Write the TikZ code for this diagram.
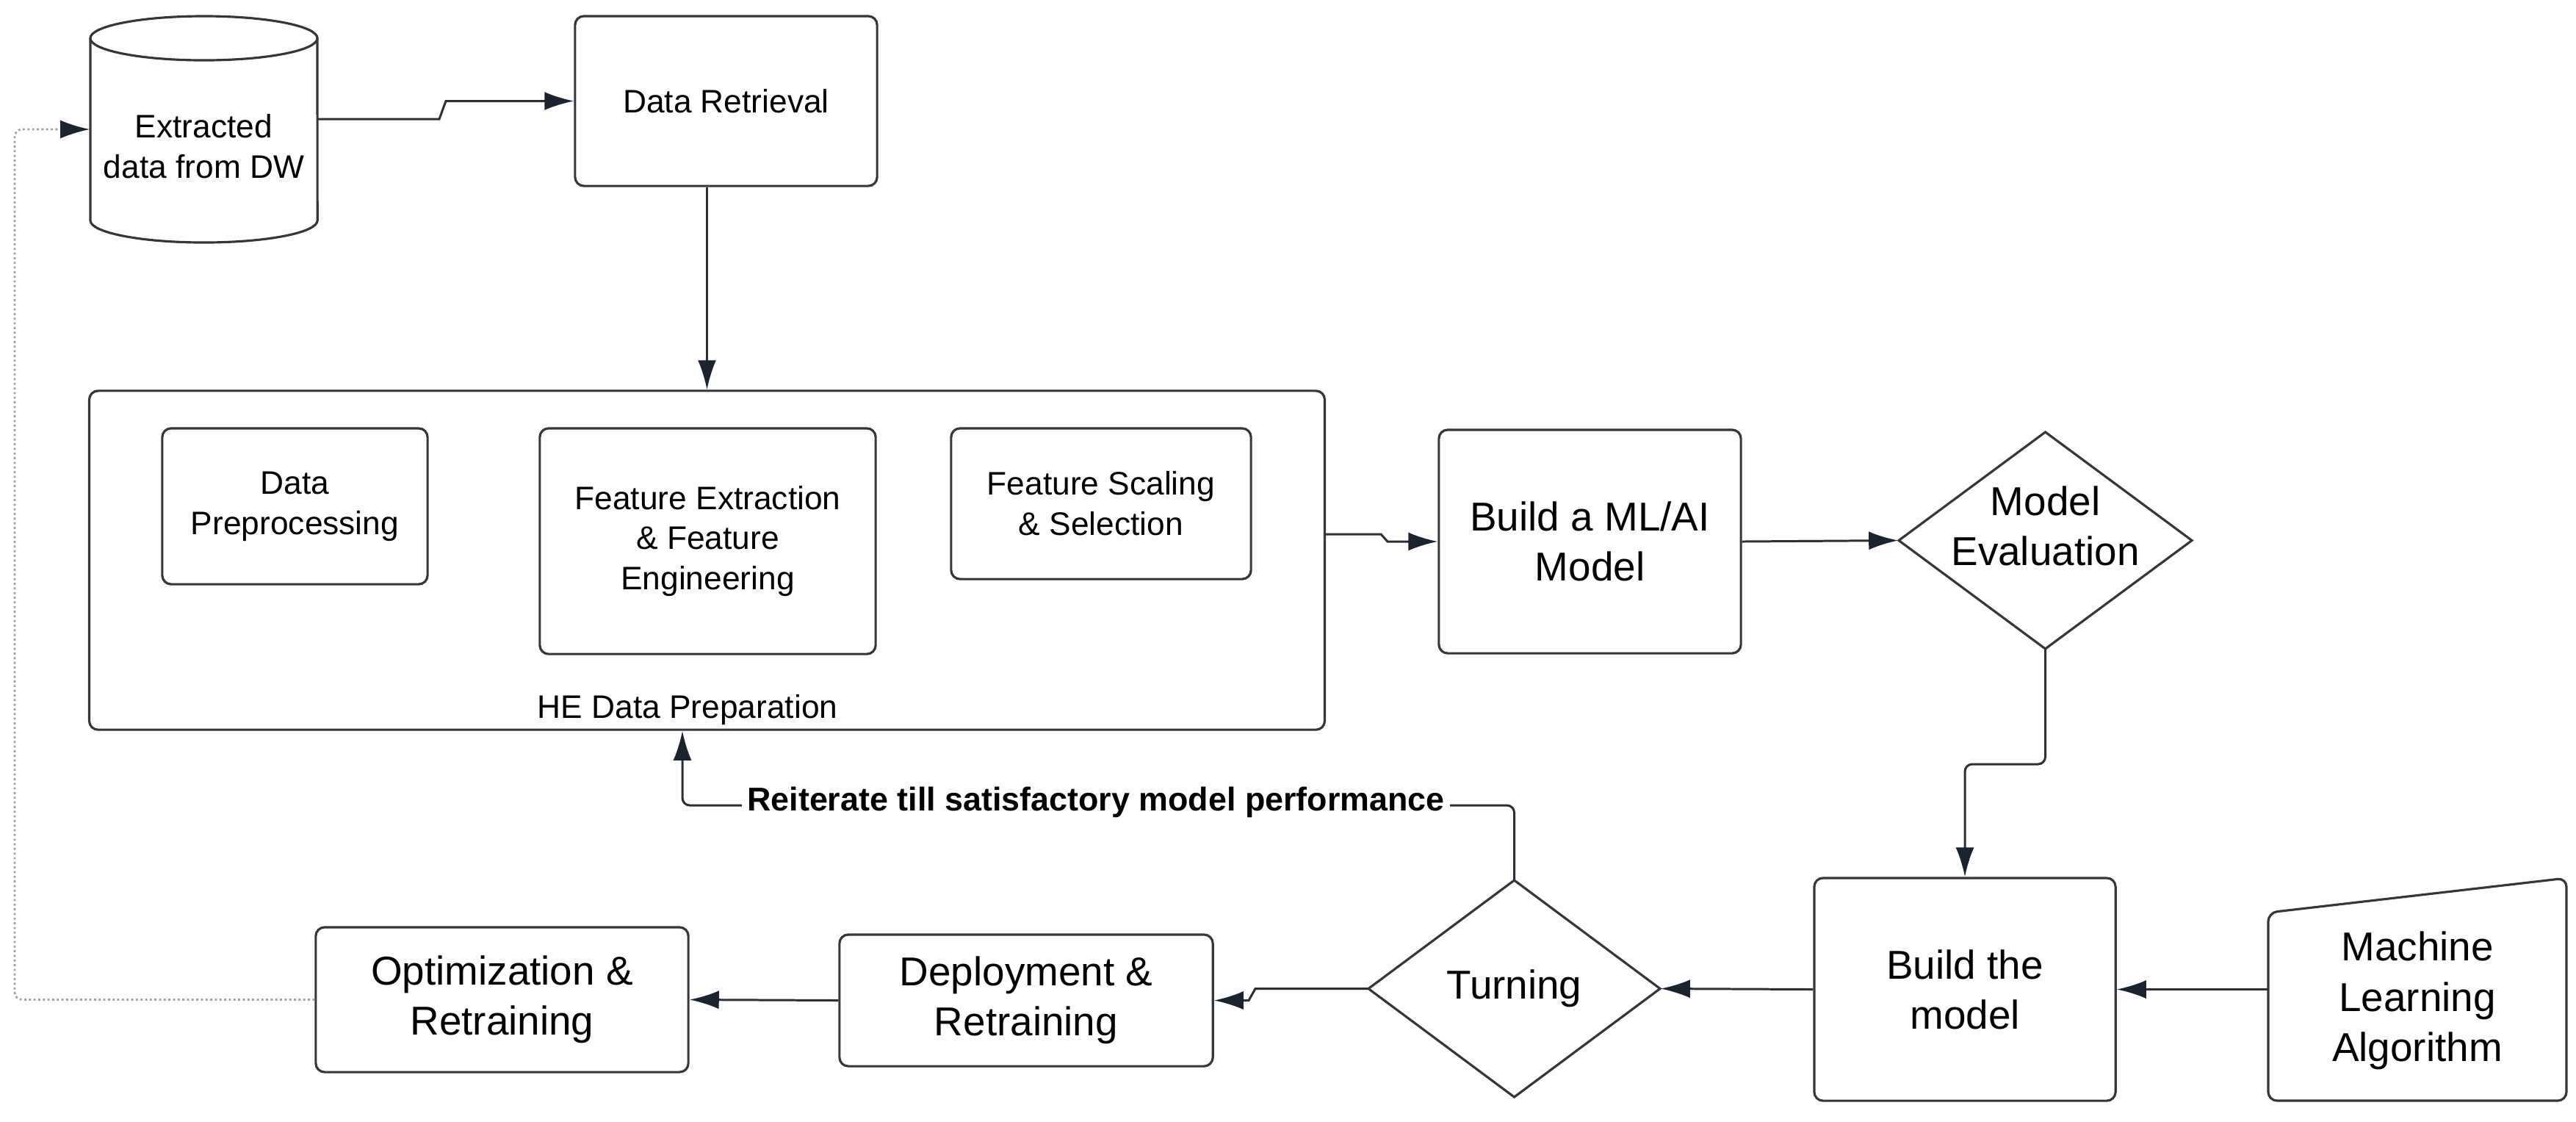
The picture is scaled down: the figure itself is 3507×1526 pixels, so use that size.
\documentclass[tikz,border=0pt]{standalone}
\usepackage{fontspec}
\setmainfont{Liberation Sans}
\usetikzlibrary{arrows.meta}
\definecolor{edgec}{HTML}{2B2F36}
\definecolor{tipc}{HTML}{1B2330}
\definecolor{boxc}{HTML}{33363C}
\definecolor{fbc}{HTML}{A0A0A0}
\begin{document}
\begin{tikzpicture}[x=0.01cm,y=-0.01cm,
  small/.style={font=\fontsize{12.6}{15.6}\selectfont},
  large/.style={font=\fontsize{15.6}{19.4}\selectfont},
  box/.style={draw=boxc, line width=0.9pt, rounded corners=0.12cm, align=center, inner sep=0pt},
  plain/.style={align=center, inner sep=0pt},
  outline/.style={draw=boxc, line width=0.9pt},
  conn/.style={draw=edgec, line width=0.85pt, -{Latex[length=0.4cm,width=0.25cm,color=tipc]}},
  fbline/.style={draw=fbc, line width=0.8pt, densely dotted, rounded corners=0.1cm, -{Latex[length=0.4cm,width=0.25cm,color=tipc]}}
]
\useasboundingbox (0,0) rectangle (3507,1526);

% --- cylinder (data warehouse extract)
\draw[outline] (123,52) -- (123,300) arc[start angle=180,end angle=360,x radius=1.545cm,y radius=0.3cm] -- (432,52);
\draw[outline] (277.5,52) ellipse [x radius=1.545cm, y radius=0.3cm];
\node[plain, small, minimum width=3.09cm] (dw) at (277.5,199) {Extracted\\data from DW};

% --- top row
\node[box, small, minimum width=4.11cm, minimum height=2.31cm] (dr) at (988.5,137.5) {Data Retrieval};

% --- HE data preparation container
\node[box, minimum width=16.81cm, minimum height=4.61cm] (he) at (962.5,762.5) {};
\node[plain, small, anchor=base] (helbl) at (936,977) {HE Data Preparation};
\node[box, small, minimum width=3.61cm, minimum height=2.12cm] (pre) at (401.5,689) {Data\\Preprocessing};
\node[box, small, minimum width=4.57cm, minimum height=3.07cm] (fe) at (963.5,736.5) {Feature Extraction\\\& Feature\\Engineering};
\node[box, small, minimum width=4.08cm, minimum height=2.05cm] (fs) at (1499,685.5) {Feature Scaling\\\& Selection};

% --- model building
\node[box, large, minimum width=4.11cm, minimum height=3.04cm] (bml) at (2164.5,737) {Build a ML/AI\\Model};
\draw[outline] (2784.5,588) -- (2984,735.5) -- (2784.5,883) -- (2585,735.5) -- cycle;
\node[plain, minimum width=3.99cm, minimum height=2.95cm] (me) at (2784.5,735.5) {};
\node[plain, large] (metxt) at (2784.5,716) {Model\\Evaluation};

% --- bottom row
\node[box, large, minimum width=4.10cm, minimum height=3.03cm] (btm) at (2675,1346.5) {Build the\\model};
\draw[outline, rounded corners=0.12cm] (3088,1242) -- (3494,1195) -- (3494,1498) -- (3088,1498) -- cycle;
\node[plain, large, minimum width=4.06cm] (mla) at (3291,1362) {Machine\\Learning\\Algorithm};
\draw[outline] (2061.5,1198) -- (2260,1345.5) -- (2061.5,1493) -- (1863,1345.5) -- cycle;
\node[plain, large, minimum width=3.97cm, minimum height=2.95cm] (tu) at (2061.5,1345.5) {Turning};
\node[box, large, minimum width=5.08cm, minimum height=1.79cm] (dep) at (1397,1361.5) {Deployment \&\\Retraining};
\node[box, large, minimum width=5.07cm, minimum height=1.97cm] (opt) at (683.5,1360.5) {Optimization \&\\Retraining};

% --- connectors
\draw[conn] (dw.east |- 0,162) -- (598,162) -- (607,137.5) -- (dr.west);
\draw[conn] (he.north |- dr.south) -- (he.north);
\draw[conn] (he.east |- 0,727) -- (1880,727) -- (1889,737) -- (bml.west);
\draw[conn] (bml.east) -- (me.west);
\draw[conn, rounded corners=0.1cm] (me.south) -- (me.south |- 0,1040) -- (btm.north |- 0,1040) -- (btm.north);
\draw[conn] (mla.west |- btm.east) -- (btm.east);
\draw[conn] (btm.west) -- (tu.east);
\draw[conn] (tu.west) -- (1709,1345.5) -- (1700,1361.5) -- (dep.east);
\draw[conn] (dep.west) -- (opt.east);
\draw[fbline] (opt.west) -- (20,0 |- opt.west) -- (20,176) -- (dw.west |- 0,176);
\draw[conn, rounded corners=0.1cm] (tu.north) -- (tu.north |- 0,1096) -- (929,1096) -- (929,0 |- he.south);
\node[fill=white, inner xsep=2pt, inner ysep=3pt, anchor=base, font=\bfseries\fontsize{12.75}{15}\selectfont] (lbl) at (1492,1103) {Reiterate till satisfactory model performance};
\end{tikzpicture}
\end{document}
